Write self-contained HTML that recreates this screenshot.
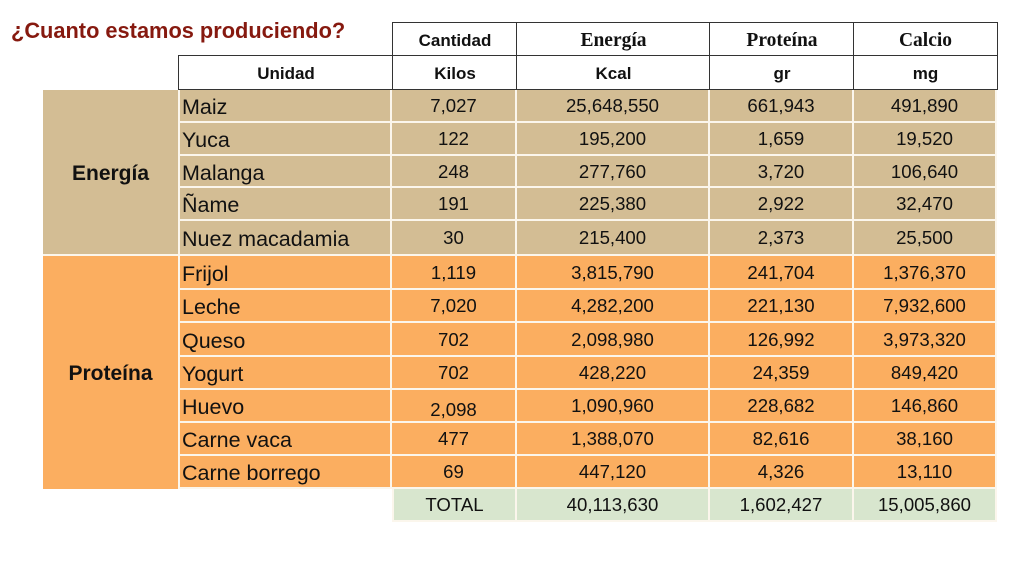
<!DOCTYPE html>
<html><head><meta charset="utf-8">
<style>
html,body{margin:0;padding:0;background:#fff;}
body{width:1024px;height:576px;position:relative;overflow:hidden;font-family:"Liberation Sans",sans-serif;color:#111;}
.title{position:absolute;left:11px;top:17px;font-size:21.8px;font-weight:bold;color:#86190f;white-space:nowrap;line-height:28px;}
.hdr{position:absolute;box-sizing:border-box;border:1.5px solid #333;background:#fff;display:flex;align-items:center;justify-content:center;font-weight:bold;padding-top:2px;}
.sans{font-family:"Liberation Sans",sans-serif;font-size:17px;}
.serif{font-family:"Liberation Serif",serif;font-size:19.5px;}
.row{position:absolute;left:178px;display:flex;}
.row div{box-sizing:border-box;border-right:2px solid #fbf6ec;border-bottom:2px solid #fbf6ec;display:flex;align-items:center;justify-content:center;font-size:18.6px;white-space:nowrap;height:100%;padding-top:1px;}
.row div.n{justify-content:flex-start;padding-left:2px;padding-top:4px;font-size:21.5px;border-left:2px solid #fbf6ec;}
.tan div{background:#d3bd94;}
.org div{background:#fbae60;}
.grp{position:absolute;left:43px;width:135px;display:flex;align-items:center;justify-content:center;font-weight:bold;font-size:21px;box-sizing:border-box;border-bottom:2px solid #fbf6ec;padding-top:3px;}
</style></head><body>
<div class="title">¿Cuanto estamos produciendo?</div>

<div class="hdr sans" style="left:392px;top:22px;width:126px;height:35px;">Cantidad</div>
<div class="hdr serif" style="left:516px;top:22px;width:195px;height:35px;">Energía</div>
<div class="hdr serif" style="left:709px;top:22px;width:146px;height:35px;">Proteína</div>
<div class="hdr serif" style="left:853px;top:22px;width:145px;height:35px;">Calcio</div>
<div class="hdr sans" style="left:178px;top:55px;width:216px;height:35px;">Unidad</div>
<div class="hdr sans" style="left:392px;top:55px;width:126px;height:35px;">Kilos</div>
<div class="hdr sans" style="left:516px;top:55px;width:195px;height:35px;">Kcal</div>
<div class="hdr sans" style="left:709px;top:55px;width:146px;height:35px;">gr</div>
<div class="hdr sans" style="left:853px;top:55px;width:145px;height:35px;">mg</div>

<div class="grp" style="top:90px;height:166px;background:#d3bd94;">Energía</div>
<div class="grp" style="top:256px;height:233px;background:#fbae60;border-bottom:none;">Proteína</div>

<div class="row tan" style="top:90px;height:33px;"><div class="n" style="width:214px">Maiz</div><div style="width:125px">7,027</div><div style="width:193px">25,648,550</div><div style="width:144px">661,943</div><div style="width:143px">491,890</div></div>
<div class="row tan" style="top:123px;height:33px;"><div class="n" style="width:214px">Yuca</div><div style="width:125px">122</div><div style="width:193px">195,200</div><div style="width:144px">1,659</div><div style="width:143px">19,520</div></div>
<div class="row tan" style="top:156px;height:32px;"><div class="n" style="width:214px">Malanga</div><div style="width:125px">248</div><div style="width:193px">277,760</div><div style="width:144px">3,720</div><div style="width:143px">106,640</div></div>
<div class="row tan" style="top:188px;height:33px;"><div class="n" style="width:214px">Ñame</div><div style="width:125px">191</div><div style="width:193px">225,380</div><div style="width:144px">2,922</div><div style="width:143px">32,470</div></div>
<div class="row tan" style="top:221px;height:35px;"><div class="n" style="width:214px">Nuez macadamia</div><div style="width:125px">30</div><div style="width:193px">215,400</div><div style="width:144px">2,373</div><div style="width:143px">25,500</div></div>

<div class="row org" style="top:256px;height:34px;"><div class="n" style="width:214px">Frijol</div><div style="width:125px">1,119</div><div style="width:193px">3,815,790</div><div style="width:144px">241,704</div><div style="width:143px">1,376,370</div></div>
<div class="row org" style="top:290px;height:33px;"><div class="n" style="width:214px">Leche</div><div style="width:125px">7,020</div><div style="width:193px">4,282,200</div><div style="width:144px">221,130</div><div style="width:143px">7,932,600</div></div>
<div class="row org" style="top:323px;height:34px;"><div class="n" style="width:214px">Queso</div><div style="width:125px">702</div><div style="width:193px">2,098,980</div><div style="width:144px">126,992</div><div style="width:143px">3,973,320</div></div>
<div class="row org" style="top:357px;height:33px;"><div class="n" style="width:214px">Yogurt</div><div style="width:125px">702</div><div style="width:193px">428,220</div><div style="width:144px">24,359</div><div style="width:143px">849,420</div></div>
<div class="row org" style="top:390px;height:33px;"><div class="n" style="width:214px">Huevo</div><div style="width:125px;padding-top:9px">2,098</div><div style="width:193px">1,090,960</div><div style="width:144px">228,682</div><div style="width:143px">146,860</div></div>
<div class="row org" style="top:423px;height:33px;"><div class="n" style="width:214px">Carne vaca</div><div style="width:125px">477</div><div style="width:193px">1,388,070</div><div style="width:144px">82,616</div><div style="width:143px">38,160</div></div>
<div class="row org" style="top:456px;height:33px;"><div class="n" style="width:214px">Carne borrego</div><div style="width:125px">69</div><div style="width:193px">447,120</div><div style="width:144px">4,326</div><div style="width:143px">13,110</div></div>

<div class="row" style="left:392px;top:489px;height:33px;">
<div style="width:125px;background:#d8e6ce;border-left:2px solid #fbf6ec;">TOTAL</div><div style="width:193px;background:#d8e6ce;">40,113,630</div><div style="width:144px;background:#d8e6ce;">1,602,427</div><div style="width:143px;background:#d8e6ce;">15,005,860</div></div>
</body></html>
